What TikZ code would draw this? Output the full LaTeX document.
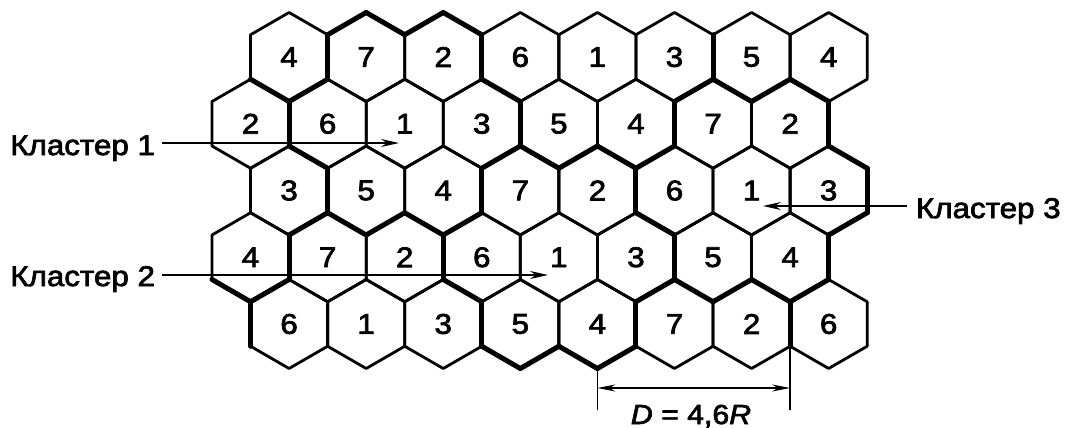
\documentclass[tikz,border=0pt]{standalone}
\usepackage{fontspec}
\setmainfont{Liberation Sans}[FakeStretch=1.1,FakeBold=2.5]
\usetikzlibrary{arrows.meta}
\begin{document}
\begin{tikzpicture}[x=1pt,y=-1pt,
  hexthin/.style={line width=2.8pt, line join=round},
  hexthick/.style={line width=5pt, line cap=round},
  num/.style={font=\fontsize{28.5}{30}\selectfont, inner sep=0pt},
  lab/.style={font=\fontsize{28.5}{30}\selectfont, inner sep=0pt, outer xsep=7pt},
  pointer/.style={line width=1.4pt, -{Stealth[length=18pt,width=8pt]}},
  dimline/.style={line width=1.4pt, {Stealth[length=18pt,width=7pt]}-{Stealth[length=18pt,width=7pt]}},
  extline/.style={line width=1.4pt}]
\def\R{44.5}
\def\H{38.54}
\useasboundingbox (0,0) rectangle (1068,428);
% cells
\foreach \r/\row in {
  1/{3/4,5/7,7/2,9/6,11/1,13/3,15/5,17/4},
  2/{2/2,4/6,6/1,8/3,10/5,12/4,14/7,16/2},
  3/{3/3,5/5,7/4,9/7,11/2,13/6,15/1,17/3},
  4/{2/4,4/7,6/2,8/6,10/1,12/3,14/5,16/4},
  5/{3/6,5/1,7/3,9/5,11/4,13/7,15/2,17/6}} {
  \foreach \X/\n in \row {
    \pgfmathsetmacro\cx{212+(\X-1)*\H}
    \pgfmathsetmacro\cy{57+(\r-1)*66.75}
    \draw[hexthin,shift={(\cx,\cy)}] (-90:\R) -- (-30:\R) -- (30:\R) -- (90:\R) -- (150:\R) -- (210:\R) -- cycle;
    \node[num] (c\X-\r) at (\cx,\cy) {\n};
  }
}
% cluster borders
\foreach \X/\r/\k in {
  3/1/1,7/1/1,13/1/1,2/2/1,8/2/1,12/2/1,3/3/1,7/3/1,11/3/1,2/4/1,6/4/1,12/4/1,7/5/1,11/5/1,15/5/1,
  3/1/3,3/1/2,9/1/3,13/1/2,15/1/3,15/1/2,17/1/3,
  4/2/3,8/2/2,10/2/3,10/2/2,12/2/3,12/2/2,
  3/3/2,5/3/3,5/3/2,7/3/3,7/3/2,13/3/3,
  2/4/2,8/4/3,12/4/2,14/4/3,14/4/2,16/4/3,16/4/2,
  5/1/5,5/1/0,7/1/5,7/1/0,16/2/1,17/3/0,17/3/1,17/3/2,16/4/1,
  9/5/3,9/5/2,11/5/3,11/5/2,3/5/4,2/4/3} {
  \pgfmathsetmacro\cx{212+(\X-1)*\H}
  \pgfmathsetmacro\cy{57+(\r-1)*66.75}
  \pgfmathsetmacro\aa{60*\k-90}
  \pgfmathsetmacro\ab{60*\k-30}
  \draw[hexthick,shift={(\cx,\cy)}] (\aa:\R) -- (\ab:\R);
}
% labels and pointers
\node[lab, anchor=base east] (k1) at (162,155) {Кластер 1};
\node[lab, anchor=base east] (k2) at (162,286) {Кластер 2};
\node[lab, anchor=base west, outer xsep=9pt] (k3) at (907,218) {Кластер 3};
\coordinate (t1) at (399,143);
\coordinate (t2) at (548,275);
\coordinate (t3) at (763,206);
\draw[pointer] (k1.east |- t1) -- (t1);
\draw[pointer] (k2.east |- t2) -- (t2);
\draw[pointer] (k3.west |- t3) -- (t3);
% dimension
\coordinate (e1a) at (597.4,368.5);
\coordinate (e1b) at (597.4,410);
\coordinate (e2a) at (790.1,346.25);
\coordinate (e2b) at (790.1,410);
\coordinate (d1) at (597.4,388);
\coordinate (d2) at (790.1,388);
\draw[extline] (e1a) -- (e1b);
\draw[extline] (e2a) -- (e2b);
\draw[dimline] (d1) -- (d2);
\node[font=\fontsize{27.5}{29}\selectfont, inner sep=0pt, anchor=base] (dl) at (691,424) {\textit{D} = 4,6\textit{R}};
\end{tikzpicture}
\end{document}
